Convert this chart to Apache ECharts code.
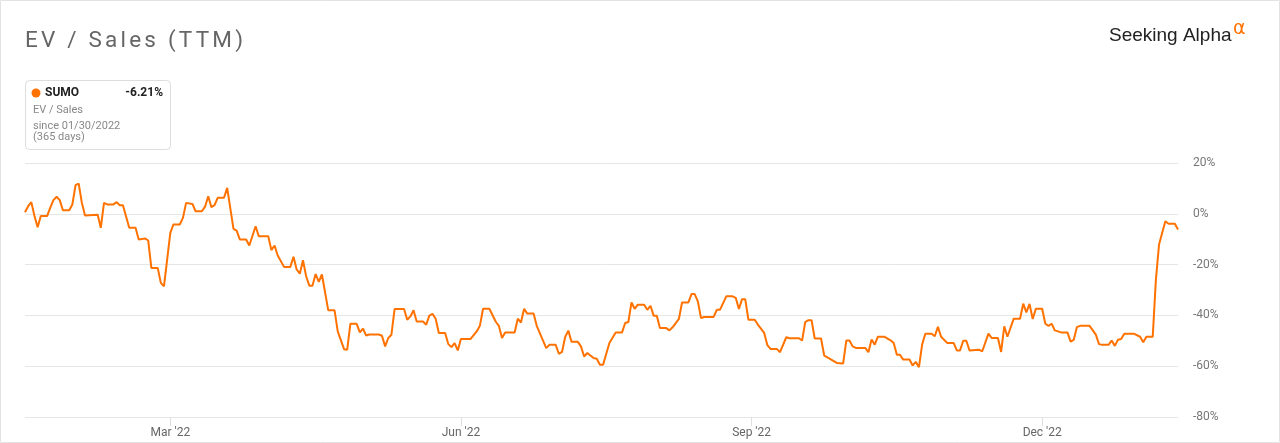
<!DOCTYPE html>
<html>
<head>
<meta charset="utf-8">
<script src="https://cdn.jsdelivr.net/npm/echarts@6/dist/echarts.min.js"></script>
<style>
  html, body { margin: 0; padding: 0; background: #fff; }
  #wrap { position: relative; width: 1280px; height: 443px; }
  #chart { position: absolute; left: 0; top: 0; width: 1280px; height: 443px; }
  #title { position: absolute; left: 25px; top: 28px; font-family: Roboto, sans-serif; font-size: 22.5px; line-height: 22px; letter-spacing: 3.2px; color: #666; white-space: nowrap; }
</style>
</head>
<body>
<div id="wrap">
  <div id="chart"></div>
  <div id="title">EV / Sales (TTM)</div>
</div>
<script>
// Day offsets since 01/30/2022 and EV/Sales change (%)
const days = [0,1,2,3,4,5,7,8,9,10,11,12,14,15,16,17,18,19,23,24,25,26,28,29,30,31,33,35,36,38,39,40,42,43,44,45,46,47,49,50,51,53,54,56,57,58,59,60,61,63,64,66,67,68,70,71,73,74,77,78,79,80,82,84,85,86,87,88,89,90,
91,92,93,94,96,98,99,101,102,103,105,106,107,108,109,112,113,114,115,116,117,120,121,122,123,124,126,127,128,129,130,131,133,134,135,136,137,138,141,143,144,145,147,149,150,151,152,155,156,157,158,159,161,162,165,166,168,169,170,171,172,173,175,176,177,178,180,181,
182,183,185,187,189,190,191,192,193,194,196,197,198,199,200,201,203,204,205,207,208,210,211,212,213,214,215,218,219,220,222,224,225,226,227,228,229,231,232,234,235,236,238,239,241,242,245,246,247,248,249,250,252,253,254,257,259,260,261,262,263,266,267,268,269,270,272,274,
275,276,277,278,280,281,282,283,284,285,287,288,289,290,292,294,295,296,297,298,299,302,303,305,306,308,309,310,311,313,315,316,317,318,319,320,322,323,324,325,326,328,330,331,332,333,334,337,339,340,341,343,344,345,346,347,348,351,353,354,355,357,358,359,360,361,362,364,365];
const values = [0.6,3.0,4.6,-0.9,-5.3,-0.9,-0.9,2.4,5.4,6.7,5.4,1.4,1.4,3.7,11.3,11.9,4.3,-0.7,-0.4,-5.5,4.3,3.7,3.7,4.6,3.4,3.4,-5.5,-5.5,-10.1,-9.7,-10.5,-21.3,-21.3,-27.2,-28.5,-18.0,-7.5,-4.2,-4.2,-1.6,4.3,3.9,1.0,1.0,2.8,6.9,2.6,3.4,6.3,6.3,10.2,-5.9,-6.6,-10.1,-10.1,-12.5,-4.9,-8.8,-8.8,-14.3,-12.5,-16.4,-20.9,-20.9,-16.9,-21.9,-23.6,-18.3,-24.6,-28.3,
-28.3,-23.7,-26.8,-23.9,-38.0,-38.0,-46.3,-53.3,-53.5,-43.3,-43.3,-46.7,-45.2,-47.9,-47.5,-47.5,-48.0,-52.2,-48.9,-47.6,-37.5,-37.5,-41.7,-40.4,-38.0,-42.4,-42.4,-43.7,-40.1,-39.4,-41.3,-46.9,-46.9,-51.3,-52.5,-50.9,-53.8,-49.3,-49.3,-46.3,-44.1,-37.4,-37.4,-42.4,-44.1,-48.9,-46.7,-46.7,-41.3,-42.8,-37.4,-39.3,-39.3,-44.1,-52.9,-51.6,-51.6,-55.1,-54.4,-48.5,-46.0,-50.4,-50.4,-52.2,-56.2,-54.8,-56.8,-57.1,
-59.4,-59.4,-50.9,-46.7,-46.7,-43.0,-42.6,-34.9,-37.4,-35.8,-35.8,-37.8,-36.2,-40.1,-40.1,-45.0,-45.0,-45.9,-44.7,-41.4,-34.9,-34.9,-31.6,-31.6,-34.5,-41.0,-40.6,-40.6,-37.8,-37.8,-32.5,-32.5,-33.1,-37.5,-33.6,-33.6,-41.7,-41.7,-43.6,-46.9,-51.7,-53.2,-53.2,-54.5,-48.6,-49.0,-49.0,-49.9,-42.6,-41.9,-41.9,-49.1,-49.1,-55.8,-56.5,-58.7,-58.9,-49.9,-49.9,-52.2,-52.8,-52.8,-54.5,-49.5,-51.5,-48.4,-48.4,-49.8,
-50.9,-55.5,-55.5,-57.4,-57.4,-59.7,-58.3,-60.4,-51.5,-47.2,-47.2,-48.2,-44.5,-48.4,-50.9,-50.9,-53.8,-53.8,-50.0,-50.0,-53.8,-53.5,-54.2,-47.2,-48.9,-48.9,-54.4,-44.3,-48.4,-41.3,-41.3,-35.4,-38.8,-35.5,-41.4,-37.4,-37.4,-43.3,-44.1,-43.3,-45.9,-46.7,-46.7,-50.3,-49.6,-44.6,-44.1,-44.1,-47.6,-51.3,-51.6,-51.6,-49.9,-52.0,-49.6,-49.3,-47.2,-47.2,-48.4,-50.6,-48.4,-48.4,-25.9,-12.1,-7.5,-2.9,-3.9,-3.9,-6.21];

const tickDays = [46, 138, 230, 322];
const tickLabels = ["Mar '22", "Jun '22", "Sep '22", "Dec '22"];
const yTicks = [-80, -60, -40, -20, 0, 20];

const ticker = 'SUMO';
const changeLabel = '-6.21%';
const metricName = 'EV / Sales';
const sinceText = 'since 01/30/2022';
const daysText = '(365 days)';

const orange = '#ff7200';
const chart = echarts.init(document.getElementById('chart'));
const seriesData = days.map((d, i) => [d, values[i]]);

chart.setOption({
  animation: false,
  backgroundColor: '#fff',
  textStyle: { fontFamily: 'Roboto, sans-serif' },
  grid: { left: 25, right: 102, top: 163, bottom: 26, containLabel: false },
  xAxis: {
    type: 'value', min: 0, max: 365,
    axisLine: { show: false, onZero: false },
    splitLine: { show: false },
    axisTick: { show: true, customValues: tickDays, length: 9, lineStyle: { color: '#e0e0e0' } },
    axisLabel: {
      customValues: tickDays, color: '#666', fontSize: 12, margin: 10,
      formatter: v => tickLabels[tickDays.indexOf(Math.round(v))] || ''
    }
  },
  yAxis: {
    type: 'value', position: 'right', min: yTicks[0], max: yTicks[yTicks.length - 1], interval: 20,
    axisLine: { show: false }, axisTick: { show: false },
    splitLine: { lineStyle: { color: '#e6e6e6', width: 1 } },
    axisLabel: { formatter: '{value}%', color: '#777', fontSize: 12, margin: 15, align: 'left' }
  },
  series: [{
    type: 'line', data: seriesData, showSymbol: false, symbol: 'none',
    lineStyle: { color: orange, width: 2 }, itemStyle: { color: orange }
  }],
  graphic: [
    { type: 'rect', silent: true, shape: { x: 0.5, y: 0.5, width: 1279, height: 442 }, style: { fill: 'none', stroke: '#e2e2e2', lineWidth: 1 } },
    { type: 'rect', shape: { x: 25.5, y: 80.5, width: 145, height: 69, r: 4 }, style: { fill: '#fff', stroke: '#dddddd', lineWidth: 1 } },
    { type: 'circle', shape: { cx: 36, cy: 93, r: 4.5 }, style: { fill: orange } },
    { type: 'text', x: 45, y: 93, style: { text: ticker, font: 'bold 12px Roboto, sans-serif', fill: '#222', verticalAlign: 'middle' } },
    { type: 'text', x: 163, y: 93, style: { text: changeLabel, font: 'bold 12px Roboto, sans-serif', fill: '#222', align: 'right', verticalAlign: 'middle' } },
    { type: 'text', x: 33, y: 110, style: { text: metricName, font: '11px Roboto, sans-serif', fill: '#888', verticalAlign: 'middle' } },
    { type: 'text', x: 33, y: 126, style: { text: sinceText, font: '11px Roboto, sans-serif', fill: '#888', verticalAlign: 'middle' } },
    { type: 'text', x: 33, y: 137.5, style: { text: daysText, font: '11px Roboto, sans-serif', fill: '#888', verticalAlign: 'middle' } },
    { type: 'text', x: 1109, y: 36, style: { text: 'Seeking Alpha', font: '19px "Liberation Sans", Arial, sans-serif', fill: '#222', verticalAlign: 'middle' } },
    { type: 'text', x: 1233, y: 29, style: { text: 'α', font: '19px "DejaVu Sans", sans-serif', fill: orange, verticalAlign: 'middle' } }
  ]
});
</script>
</body>
</html>
